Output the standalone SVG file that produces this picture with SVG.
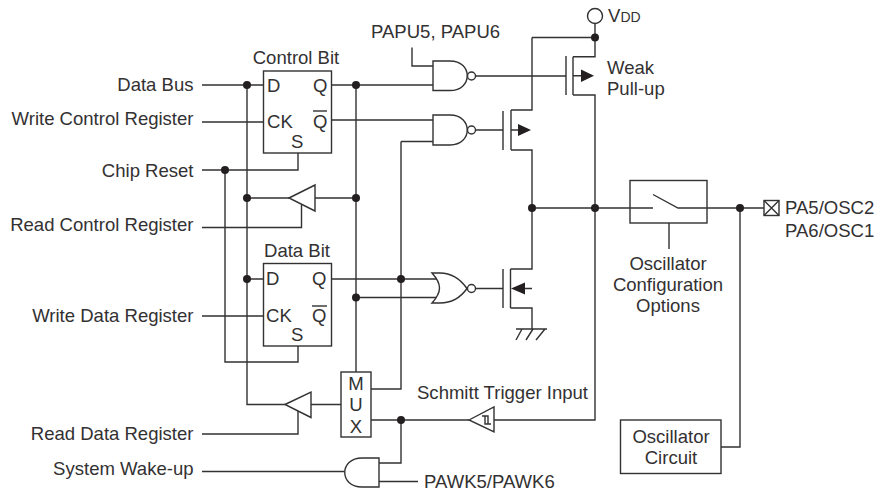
<svg xmlns="http://www.w3.org/2000/svg" width="882" height="495" viewBox="0 0 882 495">
<style>
text{font-family:"Liberation Sans",Arial,sans-serif;font-size:18.55px;fill:#333132}
.e{text-anchor:end}.m{text-anchor:middle}
.l{fill:none;stroke:#333132;stroke-width:1.4}
.s{fill:#fff;stroke:#333132;stroke-width:1.4}
.d{fill:#231f20;stroke:none}
</style>
<defs>
<circle id="dot" class="d" r="4"/>
</defs>
<rect width="882" height="495" fill="#fff"/>
<g id="connectors">
<path class="l" d="M202 85H263.500M331.500 85H433M202 122H263.500M331.500 120H433M202 170H298V153M225 170V362H298V346M247 85V404.500H285M356 85V372"/>
<path class="l" d="M202 227.500H301.500V205M247 198H289M315 198H356M247 279H263.500M331.500 279H437M356 297.500H437M202 316H263.500"/>
<path class="l" d="M401 141.500H433M401 141.500V389H371M311 404.500H341M202 434H298V411M371 420H469M494 420H595V95H573M401 420V463H379M202 471.500H344M379 481.500H418"/>
<path class="l" d="M412 47.500V66H433M476 76H566M476 130H503M476 288.500H503"/>
<path class="l" d="M595 23.500V56.700H573M532 37.500H595M532 37.500V110H511M511 150H532V269H510.500M510.500 308H532V329M516 329H547M522 329L516 340M533 329L526 340M545 329L536 340"/>
<path class="l" d="M511 130H520M573 75.700H583M525 288.500H532"/>
<path class="l" d="M532 208H653M653 194.500L678 208H764M669 223V249M740 208V447H721"/>
</g>
<g id="vdd"><circle class="s" cx="595" cy="16" r="7.500"/><text x="608" y="22">V<tspan font-size="14">DD</tspan></text></g>
<g id="junctions">
<use href="#dot" x="595" y="37.500"/><use href="#dot" x="247" y="85"/><use href="#dot" x="356" y="85"/><use href="#dot" x="225" y="170"/>
<use href="#dot" x="247" y="198"/><use href="#dot" x="356" y="198"/><use href="#dot" x="532" y="208"/><use href="#dot" x="595" y="208"/>
<use href="#dot" x="740" y="208"/><use href="#dot" x="247" y="279"/><use href="#dot" x="401" y="279"/><use href="#dot" x="356" y="297.500"/><use href="#dot" x="401" y="420"/>
</g>
<g id="input-labels">
<text class="e" x="193.500" y="90.500">Data Bus</text>
<text class="e" x="193.500" y="125">Write Control Register</text>
<text class="e" x="193.500" y="177">Chip Reset</text>
<text class="e" x="193.500" y="231">Read Control Register</text>
<text class="e" x="193.500" y="322">Write Data Register</text>
<text class="e" x="193.500" y="440">Read Data Register</text>
<text class="e" x="193.500" y="475">System Wake-up</text>
</g>
<g id="control-bit">
<rect class="s" x="263.500" y="71" width="68" height="82"/>
<text class="m" x="296" y="64">Control Bit</text>
<text x="267" y="92">D</text><text x="313" y="92">Q</text><text x="267" y="128">CK</text><text x="313" y="128">Q</text><text x="291" y="148">S</text>
<path class="l" d="M313 111H327"/>
</g>
<g id="data-bit">
<rect class="s" x="263.500" y="263.500" width="68" height="82.500"/>
<text class="m" x="297" y="257">Data Bit</text>
<text x="266" y="285">D</text><text x="312" y="285">Q</text><text x="266" y="322">CK</text><text x="312" y="322">Q</text><text x="291" y="341">S</text>
<path class="l" d="M312 306H327"/>
</g>
<g id="nand-papu">
<path class="s" d="M433 61H450C473 61 473 90.500 450 90.500H433Z"/><circle class="s" cx="471.500" cy="76" r="4"/>
<text x="371" y="38">PAPU5, PAPU6</text>
</g>
<g id="nand-q">
<path class="s" d="M433 115H450C473 115 473 145 450 145H433Z"/><circle class="s" cx="471.500" cy="130" r="4"/>
</g>
<g id="nor-gate">
<path class="s" d="M432 273H440C452 273 461 280 467 288.500C461 297 452 303 440 303H432C442 292 442 284 432 273Z"/><circle class="s" cx="471.500" cy="288.500" r="4"/>
</g>
<g id="weak-pullup">
<path class="l" d="M566 56V95M573 56.700V95"/><path class="d" d="M594 75.700L581 69.500V82Z"/>
<text x="607" y="74">Weak</text><text x="607" y="95">Pull-up</text>
</g>
<g id="pmos"><path class="l" d="M503 111V150M511 110V150"/><path class="d" d="M531 130L518 124V136Z"/></g>
<g id="nmos"><path class="l" d="M503 269V308M510.500 269V308"/><path class="d" d="M511 288.500L525 282.500V294.500Z"/></g>
<g id="buffer-control"><path class="s" d="M289 198L315 185V211Z"/></g>
<g id="buffer-data"><path class="s" d="M285 404.500L311 392V417.500Z"/></g>
<g id="mux">
<rect class="s" x="341" y="372" width="30" height="65"/>
<text class="m" x="356" y="389.500">M</text><text class="m" x="356" y="411">U</text><text class="m" x="356" y="432.500">X</text>
</g>
<g id="schmitt">
<path class="s" d="M469 420L494 407V432Z"/><path class="l" d="M482 416H488V424M485 416V424H491"/>
<text x="417" y="399">Schmitt Trigger Input</text>
</g>
<g id="and-gate">
<path class="s" d="M379 458H362C339 458 339 487 362 487H379Z"/>
<text x="424" y="488">PAWK5/PAWK6</text>
</g>
<g id="switch">
<rect class="l" x="630" y="180.500" width="77" height="42.500"/>
<text class="m" x="668" y="270">Oscillator</text><text class="m" x="668" y="291">Configuration</text><text class="m" x="668" y="312">Options</text>
</g>
<g id="pin">
<rect class="s" x="764" y="200.500" width="15" height="15"/><path class="l" d="M764 200.500L779 215.500M779 200.500L764 215.500"/>
<text x="785" y="214">PA5/OSC2</text><text x="785" y="237">PA6/OSC1</text>
</g>
<g id="oscillator-circuit">
<rect class="s" x="620.500" y="420" width="100.500" height="53.500"/>
<text class="m" x="671" y="443">Oscillator</text><text class="m" x="671" y="463.500">Circuit</text>
</g>
</svg>
